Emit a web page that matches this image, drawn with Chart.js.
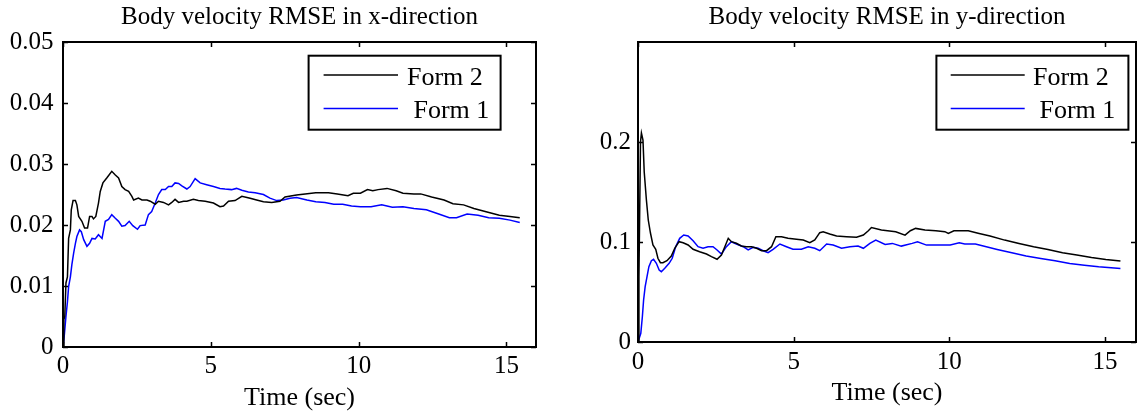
<!DOCTYPE html>
<html><head><meta charset="utf-8">
<script src="https://cdn.jsdelivr.net/npm/chart.js@4.4.1/dist/chart.umd.min.js"></script>
<style>
html,body{margin:0;padding:0;background:#fff;width:1139px;height:416px;overflow:hidden}
#c1{position:absolute;left:0;top:0}
#c2{position:absolute;left:570px;top:0}
</style></head><body>
<canvas id="c1" width="570" height="416"></canvas>
<canvas id="c2" width="569" height="416"></canvas>
<script>
// ---------- text ----------
const seriesLabels = ['Form 2', ' Form 1'];
const chartTitles = ['Body velocity RMSE in x-direction', 'Body velocity RMSE in y-direction'];
const xAxisTitle = 'Time (sec)';

// ---------- ticks ----------
const xTickValues = [0, 5, 10, 15];
const xTickLabels = ['0', '5', '10', '15'];
const yTickValuesLeft = [0, 0.01, 0.02, 0.03, 0.04, 0.05];
const yTickLabelsLeft = ['0', '0.01', '0.02', '0.03', '0.04', '0.05'];
const yTickValuesRight = [0, 0.1, 0.2];
const yTickLabelsRight = ['0', '0.1', '0.2'];

// ---------- x-direction, Form 2 (black) ----------
const timeXForm2 = [
  0, 0.03, 0.06, 0.1, 0.15, 0.19, 0.25, 0.28, 0.34, 0.42,
  0.47, 0.53, 0.64, 0.73, 0.83, 0.9, 0.98, 1.03, 1.11, 1.2,
  1.26, 1.35, 1.48, 1.65, 1.77, 1.88, 1.99, 2.1, 2.22, 2.33,
  2.39, 2.55, 2.67, 2.84, 2.95, 3.12, 3.23, 3.4, 3.57, 3.68,
  3.79, 3.91, 4.08, 4.19, 4.41, 4.58, 4.81, 5.09, 5.31, 5.43,
  5.6, 5.82, 6.05, 6.33, 6.55, 6.78, 7.06, 7.34, 7.51, 7.9,
  8.19, 8.55, 8.98, 9.28, 9.64, 9.82, 10.06, 10.3, 10.48, 10.66,
  10.96, 11.27, 11.5, 11.87, 12.1, 12.47, 12.89, 13.19, 13.55, 13.9,
  14.28, 14.76, 15.12, 15.45];
const rmseXForm2 = [
  0, 0.0045, 0.005, 0.0105, 0.0115, 0.0178, 0.0192, 0.0225, 0.024, 0.024,
  0.0233, 0.0214, 0.0206, 0.0195, 0.0195, 0.0214, 0.0214, 0.021, 0.0214, 0.0236,
  0.0255, 0.0269, 0.0277, 0.0288, 0.0282, 0.0277, 0.0263, 0.0258, 0.0255, 0.0247,
  0.0241, 0.0244, 0.0241, 0.0241, 0.0239, 0.0234, 0.0239, 0.0237, 0.0233, 0.0237,
  0.0242, 0.0237, 0.0239, 0.0239, 0.0242, 0.024, 0.0239, 0.0236, 0.023, 0.0231,
  0.0239, 0.024, 0.0247, 0.0244, 0.0241, 0.0238, 0.0237, 0.0239, 0.0246, 0.0249,
  0.0251, 0.0253, 0.0253, 0.0251, 0.0248, 0.0252, 0.0252, 0.0258, 0.0256, 0.0258,
  0.026, 0.0256, 0.0252, 0.0251, 0.0251, 0.0246, 0.0241, 0.0235, 0.0233, 0.0227,
  0.0222, 0.0216, 0.0214, 0.0212];

// ---------- x-direction, Form 1 (blue) ----------
const timeXForm1 = [
  0, 0.04, 0.1, 0.15, 0.19, 0.25, 0.3, 0.36, 0.42, 0.47,
  0.56, 0.62, 0.7, 0.81, 0.9, 0.98, 1.09, 1.2, 1.32, 1.43,
  1.54, 1.65, 1.77, 1.88, 1.99, 2.1, 2.24, 2.36, 2.52, 2.61,
  2.78, 2.89, 3.0, 3.12, 3.23, 3.34, 3.46, 3.57, 3.68, 3.79,
  3.91, 4.02, 4.19, 4.3, 4.47, 4.64, 4.86, 5.09, 5.31, 5.48,
  5.7, 5.87, 6.05, 6.27, 6.5, 6.78, 7.0, 7.23, 7.45, 7.68,
  7.9, 8.25, 8.55, 8.86, 9.16, 9.46, 9.76, 10.06, 10.42, 10.78,
  11.14, 11.5, 11.87, 12.29, 12.71, 13.07, 13.31, 13.67, 14.04, 14.4,
  14.76, 15.12, 15.45];
const rmseXForm1 = [
  0, 0.0017, 0.005, 0.0074, 0.0099, 0.0115, 0.0135, 0.0154, 0.017, 0.0181,
  0.0192, 0.0189, 0.0176, 0.0165, 0.017, 0.0178, 0.0177, 0.0184, 0.0178, 0.0206,
  0.0209, 0.0217, 0.0211, 0.0206, 0.0198, 0.0199, 0.0206, 0.0199, 0.0193, 0.0199,
  0.02, 0.0217, 0.0222, 0.0236, 0.025, 0.0258, 0.0258, 0.0263, 0.0263, 0.0269,
  0.0268, 0.0264, 0.0259, 0.0263, 0.0276, 0.0269, 0.0266, 0.0263, 0.026, 0.0259,
  0.0258, 0.026, 0.0257, 0.0254, 0.0253, 0.025, 0.0244, 0.024, 0.0241, 0.0244,
  0.0245, 0.0241, 0.0238, 0.0237, 0.0234, 0.0234, 0.0231, 0.023, 0.023, 0.0233,
  0.0229, 0.023, 0.0227, 0.0225, 0.0218, 0.0212, 0.0212, 0.0218, 0.0216, 0.0212,
  0.0211, 0.0208, 0.0204];

// ---------- y-direction, Form 2 (black) ----------
const timeYForm2 = [
  0, 0.03, 0.08, 0.11, 0.16, 0.2, 0.27, 0.33, 0.4, 0.48,
  0.57, 0.64, 0.72, 0.8, 0.93, 1.07, 1.18, 1.32, 1.45, 1.61,
  1.77, 1.98, 2.2, 2.36, 2.54, 2.68, 2.79, 2.9, 3.0, 3.16,
  3.32, 3.48, 3.65, 3.81, 3.97, 4.13, 4.29, 4.43, 4.61, 4.82,
  5.09, 5.31, 5.52, 5.68, 5.84, 5.95, 6.16, 6.38, 6.7, 7.02,
  7.24, 7.4, 7.5, 7.82, 8.28, 8.58, 8.75, 8.92, 9.22, 9.57,
  9.86, 9.97, 10.15, 10.61, 10.96, 11.31, 11.78, 12.24, 12.71, 13.17,
  13.64, 14.1, 14.57, 15.03, 15.5];
const rmseYForm2 = [
  0, 0.065, 0.2, 0.209, 0.202, 0.17, 0.142, 0.122, 0.109, 0.097,
  0.0927, 0.0837, 0.0793, 0.0793, 0.0813, 0.086, 0.0937, 0.1003, 0.0993, 0.097,
  0.0927, 0.0903, 0.088, 0.0853, 0.0827, 0.087, 0.0953, 0.1037, 0.1003, 0.0987,
  0.096, 0.0953, 0.0953, 0.0937, 0.0913, 0.0913, 0.0953, 0.1053, 0.1053, 0.1037,
  0.1027, 0.102, 0.0993, 0.102, 0.1093, 0.1103, 0.108, 0.106, 0.1053, 0.1047,
  0.107, 0.1113, 0.1145, 0.1119, 0.1103, 0.1069, 0.1113, 0.1136, 0.1119, 0.1113,
  0.1103, 0.1086, 0.1113, 0.1113, 0.1086, 0.1059, 0.1019, 0.0986, 0.0952, 0.0925,
  0.0892, 0.0869, 0.0845, 0.0825, 0.0809];

// ---------- y-direction, Form 1 (blue) ----------
const timeYForm1 = [
  0, 0.09, 0.14, 0.18, 0.23, 0.29, 0.35, 0.43, 0.5, 0.59,
  0.68, 0.75, 0.86, 1.0, 1.1, 1.21, 1.34, 1.47, 1.61, 1.77,
  1.93, 2.09, 2.25, 2.41, 2.54, 2.68, 2.84, 3.0, 3.16, 3.38,
  3.54, 3.7, 3.86, 4.02, 4.18, 4.34, 4.56, 4.77, 4.98, 5.25,
  5.47, 5.68, 5.84, 6.06, 6.27, 6.54, 6.81, 7.07, 7.24, 7.45,
  7.64, 7.94, 8.17, 8.46, 8.81, 8.98, 9.27, 9.68, 10.03, 10.32,
  10.5, 10.84, 11.19, 11.54, 12.01, 12.47, 12.94, 13.4, 13.87, 14.34,
  14.8, 15.5];
const rmseYForm1 = [
  0, 0.0087, 0.0253, 0.042, 0.0553, 0.0653, 0.0753, 0.0813, 0.0827, 0.0787,
  0.072, 0.0703, 0.0737, 0.0787, 0.0837, 0.0953, 0.1037, 0.107, 0.106, 0.1013,
  0.0953, 0.0937, 0.0953, 0.0953, 0.092, 0.088, 0.0953, 0.1003, 0.098, 0.0953,
  0.092, 0.0947, 0.0937, 0.0913, 0.0893, 0.0927, 0.098, 0.0953, 0.0927, 0.0927,
  0.0953, 0.0937, 0.0913, 0.098, 0.097, 0.0937, 0.0953, 0.096, 0.0937, 0.0987,
  0.102, 0.0976, 0.0986, 0.0959, 0.0986, 0.1002, 0.0969, 0.0969, 0.0969, 0.0992,
  0.0979, 0.0979, 0.0952, 0.0925, 0.0892, 0.0859, 0.0835, 0.0812, 0.0785, 0.0768,
  0.0752, 0.0735];

// ---------- styling / helpers ----------
const FAMILY = "'Liberation Serif', 'Times New Roman', Times, serif";
const colorForm2 = '#000000';
const colorForm1 = '#0000ff';

function pts(t, v) { return t.map((x, i) => ({ x: x, y: v[i] })); }

const boxPlugin = {
  id: 'matlabBox',
  afterDatasetsDraw(chart, args, o) {
    const { ctx, chartArea: a, scales: { x, y } } = chart;
    ctx.save();
    ctx.strokeStyle = '#000';
    ctx.lineWidth = o.tickWidth;
    ctx.beginPath();
    const L = o.tickLen;
    x.ticks.forEach(t => {
      const px = Math.round(x.getPixelForValue(t.value)) + 0.5;
      ctx.moveTo(px, a.bottom); ctx.lineTo(px, a.bottom - L);
      ctx.moveTo(px, a.top); ctx.lineTo(px, a.top + L);
    });
    y.ticks.forEach(t => {
      const py = Math.round(y.getPixelForValue(t.value)) + 0.5;
      ctx.moveTo(a.left, py); ctx.lineTo(a.left + L, py);
      ctx.moveTo(a.right, py); ctx.lineTo(a.right - L, py);
    });
    ctx.stroke();
    ctx.lineWidth = o.boxWidth;
    ctx.strokeRect(a.left, a.top, a.right - a.left, a.bottom - a.top);
    ctx.restore();
  }
};

const legendPlugin = {
  id: 'boxLegend',
  afterDatasetsDraw(chart, args, o) {
    const { ctx, chartArea: a } = chart;
    const bx = a.left + o.x, by = a.top + o.y;
    ctx.save();
    ctx.fillStyle = '#fff';
    ctx.fillRect(bx, by, o.w, o.h);
    ctx.strokeStyle = '#000';
    ctx.lineWidth = o.border;
    ctx.strokeRect(bx, by, o.w, o.h);
    ctx.font = o.fontSize + 'px ' + FAMILY;
    ctx.textBaseline = 'alphabetic';
    ctx.textAlign = 'left';
    chart.data.datasets.forEach((ds, i) => {
      const ly = by + o.rowY[i];
      ctx.strokeStyle = ds.borderColor;
      ctx.lineWidth = ds.borderWidth;
      ctx.beginPath();
      ctx.moveTo(bx + o.lineX0, ly); ctx.lineTo(bx + o.lineX1, ly);
      ctx.stroke();
      ctx.fillStyle = '#000';
      ctx.fillText(ds.label, bx + o.textX, ly + o.textDy);
    });
    ctx.restore();
  }
};

function makeChart(id, cfg) {
  return new Chart(document.getElementById(id), {
    type: 'line',
    data: {
      datasets: [
        { label: seriesLabels[0], data: pts(cfg.t2, cfg.v2), borderColor: colorForm2, borderWidth: 1.5, pointRadius: 0, tension: 0, fill: false },
        { label: seriesLabels[1], data: pts(cfg.t1, cfg.v1), borderColor: colorForm1, borderWidth: 1.5, pointRadius: 0, tension: 0, fill: false }
      ]
    },
    plugins: [boxPlugin, legendPlugin],
    options: {
      responsive: false,
      animation: false,
      devicePixelRatio: 1,
      layout: { padding: { left: 0, right: cfg.padRight, top: 0, bottom: 0 } },
      plugins: {
        legend: { display: false },
        tooltip: { enabled: false },
        title: {
          display: true, fullSize: false, text: cfg.title, color: '#000',
          font: { family: FAMILY, size: 25, weight: 'normal', lineHeight: 1.2 },
          padding: { top: 2, bottom: 10 }
        },
        matlabBox: { tickLen: 5, tickWidth: 1.5, boxWidth: 2 },
        boxLegend: cfg.legend
      },
      scales: {
        x: {
          type: 'linear', position: 'bottom', min: 0, max: 16,
          grid: { display: false, drawTicks: false },
          border: { display: false },
          afterBuildTicks: s => { s.ticks = xTickValues.map(v => ({ value: v })); },
          afterFit: s => { s.height = cfg.xHeight; },
          ticks: {
            color: '#000', padding: cfg.xTickPad, maxRotation: 0, autoSkip: false,
            font: { family: FAMILY, size: 25, weight: 'normal' },
            callback: v => xTickLabels[xTickValues.indexOf(v)]
          },
          title: {
            display: true, text: xAxisTitle, color: '#000',
            font: { family: FAMILY, size: 26, weight: 'normal', lineHeight: 1.2 },
            padding: { top: 0, bottom: cfg.xTitlePad }
          }
        },
        y: {
          type: 'linear', position: 'left', min: 0, max: cfg.yMax,
          grid: { display: false, drawTicks: false },
          border: { display: false },
          afterBuildTicks: s => { s.ticks = cfg.yVals.map(v => ({ value: v })); },
          afterFit: s => { s.width = cfg.yWidth; },
          ticks: {
            color: '#000', padding: cfg.yPad, autoSkip: false,
            font: { family: FAMILY, size: 25, weight: 'normal' },
            callback: v => cfg.yLabels[cfg.yVals.indexOf(v)]
          }
        }
      }
    }
  });
}

makeChart('c1', {
  title: chartTitles[0],
  t2: timeXForm2, v2: rmseXForm2, t1: timeXForm1, v1: rmseXForm1,
  yMax: 0.05, yVals: yTickValuesLeft, yLabels: yTickLabelsLeft,
  yWidth: 63, yPad: 9.5, padRight: 34, xHeight: 69, xTickPad: 4, xTitlePad: 2.5,
  legend: { x: 245.6, y: 13.7, w: 192, h: 74, border: 2, fontSize: 26,
            rowY: [19.3, 52.7], lineX0: 15, lineX1: 89.4, textX: 98.4, textDy: 9.5 }
});

makeChart('c2', {
  title: chartTitles[1],
  t2: timeYForm2, v2: rmseYForm2, t1: timeYForm1, v1: rmseYForm1,
  yMax: 0.3, yVals: yTickValuesRight, yLabels: yTickLabelsRight,
  yWidth: 68, yPad: 7, padRight: 3, xHeight: 74, xTickPad: 5, xTitlePad: 7,
  legend: { x: 298.4, y: 13.7, w: 192, h: 74, border: 2, fontSize: 26,
            rowY: [19.3, 52.7], lineX0: 14.3, lineX1: 88.3, textX: 96.6, textDy: 9.5 }
});
</script>
</body></html>
